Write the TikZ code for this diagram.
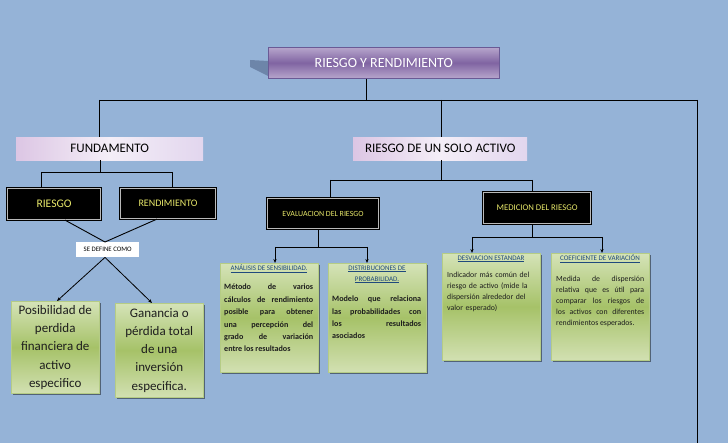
\documentclass[tikz,border=0pt]{standalone}
\usepackage{fontspec}
\setmainfont{Carlito}
\usetikzlibrary{shadows,arrows.meta}
\definecolor{bg}{HTML}{95B3D7}
\definecolor{ttop}{HTML}{B7A6CC}
\definecolor{tmid}{HTML}{8064A2}
\definecolor{tbor}{HTML}{6A5A95}
\definecolor{lavL}{HTML}{DCC6E4}
\definecolor{lavM}{HTML}{F4EEF7}
\definecolor{lavR}{HTML}{E2D6EE}
\definecolor{gtop}{HTML}{D5E3B8}
\definecolor{gmid}{HTML}{A6C268}
\definecolor{gbot}{HTML}{D2E0B2}
\definecolor{gbor}{HTML}{B5CC85}
\definecolor{ylw}{HTML}{E8E86A}
\definecolor{hblue}{HTML}{1F497D}
\definecolor{txt}{HTML}{1E1E1E}
\definecolor{shad}{HTML}{677DA2}
\tikzset{
  conn/.style={draw=black, line width=0.9pt},
  arr/.style={draw=black, line width=0.8pt, -{Stealth[length=4pt,width=3.2pt]}},
  titlebox/.style={anchor=north west, inner sep=0pt, draw=tbor, line width=0.6pt,
    top color=ttop, bottom color=ttop, middle color=tmid, text=white,
    font=\fontsize{14}{16}\selectfont},
  lavbox/.style={anchor=north west, inner sep=0pt, left color=lavL, right color=lavR,
    middle color=lavM, text=black, font=\fontsize{13}{15}\selectfont},
  darkbox/.style={anchor=north west, inner sep=0pt, fill=black, draw=black,
    double=gray!55, double distance=0.7pt, line width=1.1pt, text=ylw},
  greenbox/.style={anchor=north west, inner sep=0pt, draw=gbor, line width=0.5pt,
    top color=gtop, bottom color=gbot, middle color=gmid,
    drop shadow={shadow xshift=1.5pt, shadow yshift=-1.5pt, opacity=0.45, fill=black}},
  bigtext/.style={text=txt, align=center, font=\fontsize{13}{18.3}\selectfont},
  headtxt/.style={text=hblue, inner sep=0pt, align=center, font=\fontsize{7}{11}\selectfont},
  bodytxt/.style={text=txt, inner sep=0pt, anchor=north west, align=justify},
  defbox/.style={anchor=north west, inner sep=0pt, fill=white, text=black,
    font=\fontsize{6.8}{8}\selectfont}
}
\begin{document}
\begin{tikzpicture}[x=1pt,y=-1pt]
\fill[bg] (0,0) rectangle (728,443);
\useasboundingbox (0,0) rectangle (728,443);

% title shadow
\fill[shad, opacity=0.85] (250,60) -- (268,61) -- (268,76) -- (250,67) -- cycle;

% boxes
\node[titlebox, minimum width=231pt, minimum height=31pt] (title) at (268,47) {RIESGO Y RENDIMIENTO};
\node[lavbox, minimum width=187pt, minimum height=23pt] (fund) at (16,137) {FUNDAMENTO};
\node[lavbox, minimum width=174pt, minimum height=23pt] (solo) at (353,137) {RIESGO DE UN SOLO ACTIVO};

\node[darkbox, minimum width=93pt, minimum height=31pt, font=\fontsize{11.6}{13}\selectfont] (riesgo) at (7,188) {RIESGO};
\node[darkbox, minimum width=95pt, minimum height=30pt, font=\fontsize{10}{12}\selectfont] (rend) at (120,188) {RENDIMIENTO};
\node[darkbox, minimum width=111pt, minimum height=30pt, font=\fontsize{7.9}{9}\selectfont] (eval) at (267,198) {EVALUACION DEL RIESGO};
\node[darkbox, minimum width=107pt, minimum height=31pt, font=\fontsize{8.7}{10}\selectfont] (medi) at (483,192) {MEDICION DEL RIESGO};

\node[defbox, minimum width=63pt, minimum height=15pt] (def) at (76,242) {SE DEFINE COMO};

\node[greenbox, minimum width=88pt, minimum height=92pt, bigtext] (pos) at (11,301)
  {Posibilidad de\\perdida\\financiera de\\activo\\especifico};
\node[greenbox, minimum width=88pt, minimum height=94pt, bigtext] (gan) at (115,303)
  {Ganancia o\\pérdida total\\de una\\inversión\\especifica.};

\node[greenbox, minimum width=98pt, minimum height=109pt] (ana) at (220,263) {};
\node[greenbox, minimum width=98pt, minimum height=109pt] (dis) at (328,263) {};
\node[greenbox, minimum width=98pt, minimum height=107pt] (des) at (442,253) {};
\node[greenbox, minimum width=98pt, minimum height=107pt] (coe) at (551,253) {};

% texts of small boxes
\node[headtxt] (anah) at (269,269) {\underline{ANÁLISIS DE SENSIBILIDAD.}};
\node[bodytxt, text width=89pt, font=\bfseries\fontsize{8.1}{12.4}\selectfont] (anab) at (224,284)
  {Método de varios\linebreak cálculos de rendimiento\linebreak posible para obtener\linebreak una percepción del\linebreak grado de variación\linebreak entre los resultados};

\node[headtxt] (dish) at (377,274.5) {\underline{DISTRIBUCIONES DE}\\\underline{PROBABILIDAD.}};
\node[bodytxt, text width=89pt, font=\bfseries\fontsize{8.1}{12.3}\selectfont] (disb) at (332,296)
  {Modelo que relaciona\linebreak las probabilidades con\linebreak los resultados\linebreak asociados};

\node[headtxt] (desh) at (491,259) {\underline{DESVIACION ESTANDAR}};
\node[bodytxt, text width=88pt, align=left, font=\fontsize{7.8}{11.2}\selectfont] (desb) at (447,271.5)
  {Indicador más común del\\riesgo de activo (mide la\\dispersión alrededor del\\valor esperado)};

\node[headtxt] (coeh) at (600,259) {\underline{COEFICIENTE DE VARIACIÓN}};
\node[bodytxt, text width=88pt, font=\fontsize{7.8}{11.2}\selectfont] (coeb) at (556,275.5)
  {Medida de dispersión\linebreak relativa que es útil para\linebreak comparar los riesgos de\linebreak los activos con diferentes\linebreak rendimientos esperados.};

% junction coordinates
\coordinate (hT) at (366,100);
\coordinate (hL) at (99,100);
\coordinate (hM) at (441,100);
\coordinate (hR) at (697,100);
\coordinate (bR) at (697,443);
\coordinate (fC) at (100,172);
\coordinate (fL) at (41,172);
\coordinate (fR) at (172,172);
\coordinate (rA) at (65,0);
\coordinate (rB) at (157,0);
\coordinate (dT) at (105,0);
\coordinate (aP) at (57,0);
\coordinate (aG) at (152,0);
\coordinate (sC) at (441,180);
\coordinate (sL) at (330,180);
\coordinate (sR) at (532,180);
\coordinate (eC) at (318,247);
\coordinate (eL) at (275,247);
\coordinate (eR) at (367,247);
\coordinate (mC) at (532,237);
\coordinate (mL) at (472,237);
\coordinate (mR) at (602,237);

% connectors
\draw[conn] (title.south -| hT) -- (hT);
\draw[conn] (hL) -- (hR);
\draw[conn] (hL) -- (fund.north -| hL);
\draw[conn] (hM) -- (solo.north -| hM);
\draw[conn] (hR) -- (bR);

\draw[conn] (fund.south -| fC) -- (fC);
\draw[conn] (fL) -- (fR);
\draw[conn] (fL) -- (riesgo.north -| fL);
\draw[conn] (fR) -- (rend.north -| fR);

\draw[conn] (riesgo.south -| rA) -- (def.north -| dT);
\draw[conn] (rend.south -| rB) -- (def.north -| dT);
\draw[arr] (def.south -| dT) -- (pos.north -| aP);
\draw[arr] (def.south -| dT) -- (gan.north -| aG);

\draw[conn] (solo.south -| sC) -- (sC);
\draw[conn] (sL) -- (sR);
\draw[conn] (sL) -- (eval.north -| sL);
\draw[conn] (sR) -- (medi.north -| sR);

\draw[conn] (eval.south -| eC) -- (eC);
\draw[conn] (eL) -- (eR);
\draw[arr] (eL) -- (ana.north -| eL);
\draw[arr] (eR) -- (dis.north -| eR);

\draw[conn] (medi.south -| mC) -- (mC);
\draw[conn] (mL) -- (mR);
\draw[arr] (mL) -- (des.north -| mL);
\draw[arr] (mR) -- (coe.north -| mR);
\end{tikzpicture}
\end{document}
